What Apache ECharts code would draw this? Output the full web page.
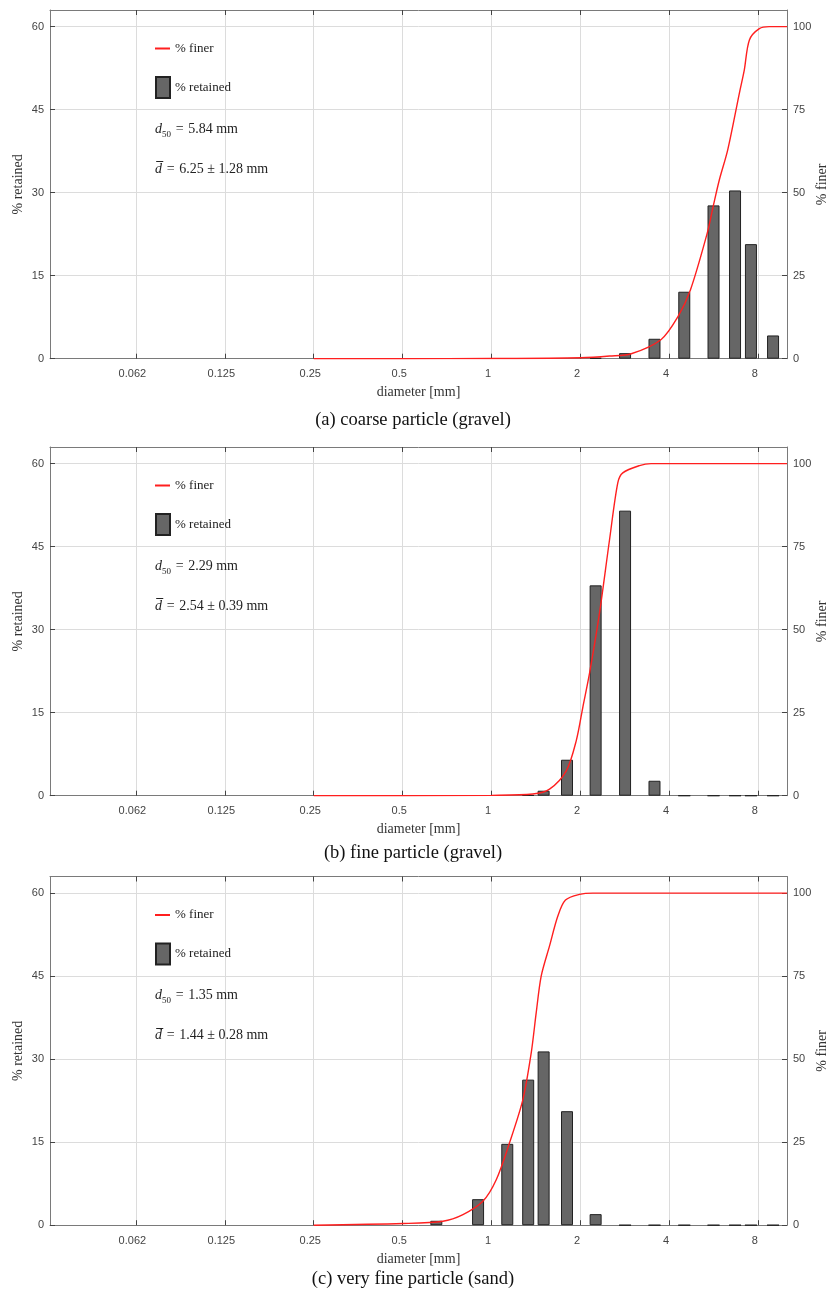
<!DOCTYPE html>
<html><head><meta charset="utf-8">
<script src="https://cdn.jsdelivr.net/npm/echarts@6/dist/echarts.min.js"></script>
<style>html,body{margin:0;padding:0;background:#fff;overflow:hidden}#c{width:828px;height:1293px}</style>
</head><body><div id="c"></div>
<script>
// ---------- data ----------
const tickDiameters = [0.0625, 0.125, 0.25, 0.5, 1, 2, 4, 8];
const tickLabels = ['0.062', '0.125', '0.25', '0.5', '1', '2', '4', '8'];
const xMinMm = 0.032;
const xMaxMm = 10;
const retainedTicks = [0, 15, 30, 45, 60];
const finerTicks = [0, 25, 50, 75, 100];
const retainedMax = 63;
const finerMax = 105;

const captions = ['(a) coarse particle (gravel)', '(b) fine particle (gravel)', '(c) very fine particle (sand)'];
const d50Values = ['5.84', '2.29', '1.35'];
const meanValues = ['6.25', '2.54', '1.44'];
const sdValues = ['1.28', '0.39', '0.28'];

// panel (a)
const sizesA = [2.25, 2.83, 3.56, 4.49, 5.64, 6.67, 7.55, 8.97];
const retainedA = [0.15, 1.0, 3.6, 12.1, 27.7, 30.4, 20.7, 4.2];
const finerSizesA = [0.25, 0.5, 1, 2, 2.51, 2.97, 3.75, 4.27, 4.71, 5.37, 5.63, 5.9, 6.3, 6.9, 7.17, 7.46, 8.06, 8.7, 10];
const finerA = [0, 0, 0.05, 0.3, 0.8, 1.5, 5.8, 12.6, 20.7, 37.8, 46, 53.8, 62.9, 80, 87, 96, 99.4, 100, 100];

// panel (b)
const sizesB = [1.33, 1.50, 1.80, 2.25, 2.83, 3.56, 4.49, 5.64, 6.67, 7.55, 8.97];
const retainedB = [0.1, 0.9, 6.5, 38.0, 51.5, 2.7, 0, 0, 0, 0, 0];
const finerSizesB = [0.25, 0.5, 1, 1.379, 1.571, 1.79, 1.935, 2.037, 2.145, 2.318, 2.507, 2.674, 2.78, 3.166, 3.467, 10];
const finerB = [0, 0, 0.1, 0.5, 2, 7.5, 16.6, 26.7, 36.8, 54.9, 77, 94.2, 97.2, 99.4, 100, 100];

// panel (c)
const sizesC = [0.65, 0.90, 1.13, 1.33, 1.50, 1.80, 2.25, 2.83, 3.56, 4.49, 5.64, 6.67, 7.55, 8.97];
const retainedC = [0.8, 4.7, 14.7, 26.3, 31.4, 20.6, 2.0, 0, 0, 0, 0, 0, 0, 0];
const finerSizesC = [0.25, 0.502, 0.684, 0.8, 0.934, 1.037, 1.15, 1.276, 1.362, 1.416, 1.472, 1.571, 1.676, 1.779, 1.985, 2.2, 10];
const finerC = [0, 0.5, 1.2, 3.2, 7.2, 13.7, 24.8, 37.8, 51.9, 64, 75, 84.1, 93.1, 97.9, 99.6, 100, 100];

// ---------- layout ----------
const panelTops = [10, 447, 876.5];
const panelHeight = 348.7;
const plotLeft = 50, plotRight = 41;

const panels = [
  { sizes: sizesA, retained: retainedA, fs: finerSizesA, fv: finerA },
  { sizes: sizesB, retained: retainedB, fs: finerSizesB, fv: finerB },
  { sizes: sizesC, retained: retainedC, fs: finerSizesC, fv: finerC }
];

const L2 = Math.log2;
const tickPos = tickDiameters.map(d => L2(d));
function xFmt(v) {
  for (let k = 0; k < tickPos.length; k++) if (Math.abs(v - tickPos[k]) < 1e-6) return tickLabels[k];
  return '';
}
const SERIF = 'Liberation Serif, Times New Roman, serif';
const SANS = 'Liberation Sans, Arial, sans-serif';
const gridColor = '#dcdcdc';
const axisColor = '#7a7a7a';
const tickColor = '#444';

const grid = [], xAxis = [], yAxis = [], series = [], legend = [], graphic = [];
panels.forEach((p, i) => {
  const top = panelTops[i];
  const off = top - panelTops[0];
  grid.push({ left: plotLeft, right: plotRight, top: top, height: panelHeight, containLabel: false, outerBoundsMode: 'none' });
  xAxis.push({
    gridIndex: i, type: 'value', min: L2(xMinMm), max: L2(xMaxMm),
    axisLine: { show: true, onZero: false, lineStyle: { color: axisColor, width: 1 } },
    axisTick: { show: true, inside: true, length: 5, customValues: tickPos, lineStyle: { color: tickColor } },
    axisLabel: { customValues: tickPos, formatter: xFmt, margin: 10, fontSize: 11, color: '#444', fontFamily: SANS, padding: [0, 7, 0, 0] },
    splitLine: { show: true, lineStyle: { color: gridColor, width: 1 } },
    name: 'diameter [mm]', nameLocation: 'middle', nameGap: 27, nameMoveOverlap: false,
    nameTextStyle: { fontFamily: SERIF, fontSize: 14, color: '#333' }
  });
  xAxis.push({
    gridIndex: i, type: 'value', position: 'top', min: L2(xMinMm), max: L2(xMaxMm),
    axisLine: { show: true, onZero: false, lineStyle: { color: axisColor, width: 1 } },
    axisTick: { show: true, inside: true, length: 5, customValues: tickPos, lineStyle: { color: tickColor } },
    axisLabel: { show: false, customValues: tickPos },
    splitLine: { show: false }
  });
  yAxis.push({
    gridIndex: i, type: 'value', min: 0, max: retainedMax, position: 'left',
    axisLine: { show: true, onZero: false, lineStyle: { color: axisColor, width: 1 } },
    axisTick: { show: true, inside: true, length: 5, customValues: retainedTicks, lineStyle: { color: tickColor } },
    axisLabel: { customValues: retainedTicks, margin: 6, fontSize: 11, color: '#444', fontFamily: SANS },
    splitLine: { show: true, lineStyle: { color: gridColor, width: 1 } },
    name: '% retained', nameLocation: 'middle', nameGap: 25, nameRotate: 90, nameMoveOverlap: false,
    nameTextStyle: { fontFamily: SERIF, fontSize: 14, color: '#333' }
  });
  yAxis.push({
    gridIndex: i, type: 'value', min: 0, max: finerMax, position: 'right',
    axisLine: { show: true, onZero: false, lineStyle: { color: axisColor, width: 1 } },
    axisTick: { show: true, inside: true, length: 5, customValues: finerTicks, lineStyle: { color: tickColor } },
    axisLabel: { customValues: finerTicks, margin: 6, fontSize: 11, color: '#444', fontFamily: SANS },
    splitLine: { show: false },
    name: '% finer', nameLocation: 'middle', nameGap: 28, nameRotate: 90, nameMoveOverlap: false,
    nameTextStyle: { fontFamily: SERIF, fontSize: 14, color: '#333' }
  });
  series.push({
    name: '% retained', type: 'bar', xAxisIndex: 2 * i, yAxisIndex: 2 * i,
    data: p.sizes.map((d, k) => [L2(d), p.retained[k]]),
    barWidth: 12, z: 2,
    itemStyle: { color: '#666666', borderColor: '#222222', borderWidth: 1 }
  });
  series.push({
    name: '% finer', type: 'line', xAxisIndex: 2 * i, yAxisIndex: 2 * i + 1,
    data: p.fs.map((d, k) => [L2(d), p.fv[k]]),
    smooth: 0.3, symbol: 'none', showSymbol: false, z: 3,
    lineStyle: { color: '#ff1f1f', width: 1.4 }, itemStyle: { color: '#ff1f1f' }
  });
  legend.push({
    data: [{ name: '% finer', icon: 'rect' }], left: 155, top: 42 + off, itemWidth: 15, itemHeight: 2, selectedMode: false,
    textStyle: { fontFamily: SERIF, fontSize: 13, color: '#222' }, padding: 0
  });
  legend.push({
    data: [{ name: '% retained', icon: 'rect' }], left: 155, top: 76 + off, itemWidth: 14, itemHeight: 21, selectedMode: false,
    textStyle: { fontFamily: SERIF, fontSize: 13, color: '#222' }, padding: 0
  });
  const rich = {
    it: { fontFamily: SERIF, fontStyle: 'italic', fontSize: 14, lineHeight: 20, fill: '#222' },
    sub: { fontFamily: SERIF, fontSize: 9, lineHeight: 20, verticalAlign: 'bottom', fill: '#222' },
    n: { fontFamily: SERIF, fontSize: 14, lineHeight: 20, fill: '#222' }
  };
  graphic.push({
    type: 'text', left: 155, top: 122 + off, z: 10,
    style: { text: '{it|d}{sub|50}{n|\u2004=\u2004' + d50Values[i] + ' mm}', rich: rich }
  });
  graphic.push({
    type: 'text', left: 155, top: 162 + off, z: 10,
    style: { text: '{it|d\u0305}{n|\u2004=\u2004' + meanValues[i] + ' \u00b1 ' + sdValues[i] + ' mm}', rich: rich }
  });
  graphic.push({
    type: 'text', x: 413, y: 420 + [0, 433, 859][i], z: 10,
    style: { text: captions[i], fontFamily: SERIF, fontSize: 18.5, fill: '#111', align: 'center', verticalAlign: 'middle' }
  });
});

const chart = echarts.init(document.getElementById('c'), null, { renderer: 'canvas' });
chart.setOption({
  animation: false, backgroundColor: '#ffffff',
  grid, xAxis, yAxis, series, legend, graphic
});
</script></body></html>
